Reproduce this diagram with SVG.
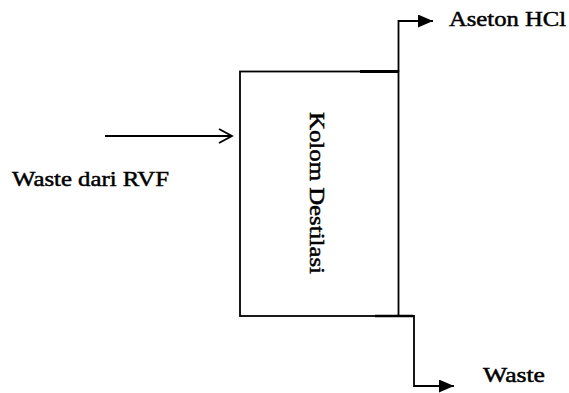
<svg xmlns="http://www.w3.org/2000/svg" width="569" height="393" viewBox="0 0 569 393">
<style>
.ln{fill:none;stroke:#000;stroke-width:1.8}
.tx{font-family:"Liberation Serif","Times New Roman",serif;font-size:22px;fill:#000;stroke:#000;stroke-width:0.5}
</style>
<defs>
<marker id="fill" markerWidth="15" markerHeight="13" refX="15" refY="6.5" orient="auto" markerUnits="userSpaceOnUse">
<path d="M0,0 L15,6.5 L0,13 Z" fill="#000"/>
</marker>
<marker id="open" markerWidth="16" markerHeight="16" refX="14" refY="8" orient="auto" markerUnits="userSpaceOnUse">
<path d="M1,1 L14,8 L1,15" fill="none" stroke="#000" stroke-width="1.8"/>
</marker>
</defs>
<rect width="569" height="393" fill="#fff"/>
<g id="kolom">
<rect x="240" y="71.5" width="158.5" height="244.5" class="ln"/>
<line x1="360" y1="71.5" x2="398.5" y2="71.5" stroke="#000" stroke-width="2.8"/>
<line x1="375" y1="316" x2="413" y2="316" stroke="#000" stroke-width="2.4"/>
<text class="tx" font-size="24" transform="translate(310,193) rotate(90)" text-anchor="middle" textLength="162" lengthAdjust="spacingAndGlyphs">Kolom Destilasi</text>
</g>
<g id="connectors">
<line x1="105" y1="136" x2="232" y2="136" class="ln" marker-end="url(#open)"/>
<polyline points="398.5,71.5 398.5,21 433,21" class="ln" stroke-width="2.2" marker-end="url(#fill)"/>
<polyline points="398.5,316 414,316 414,386 454,386" class="ln" stroke-width="2.2" marker-end="url(#fill)"/>
</g>
<g id="label-input">
<text class="tx" x="12" y="186" textLength="157" lengthAdjust="spacingAndGlyphs">Waste dari RVF</text>
</g>
<g id="label-aseton">
<text class="tx" x="449" y="26" textLength="117" lengthAdjust="spacingAndGlyphs">Aseton HCl</text>
</g>
<g id="label-waste">
<text class="tx" x="483" y="382" textLength="62" lengthAdjust="spacingAndGlyphs">Waste</text>
</g>
</svg>
